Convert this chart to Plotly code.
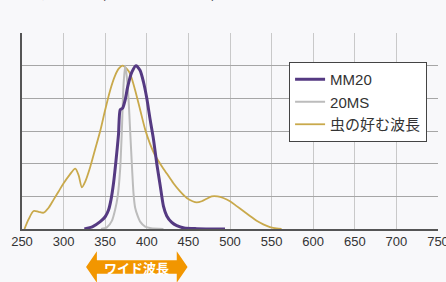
import plotly.graph_objects as go

# ---- data ----
mm20_x = [325, 335, 344, 350, 354, 357, 360, 363, 366, 368, 371, 374, 377, 382, 387, 392, 396, 400, 404, 408, 412, 416, 420, 424, 430, 436, 445, 460, 494]
mm20_y = [0, 0.015, 0.045, 0.075, 0.116, 0.18, 0.28, 0.42, 0.58, 0.73, 0.74, 0.79, 0.87, 0.96, 1.0, 0.97, 0.9, 0.8, 0.67, 0.55, 0.4, 0.27, 0.14, 0.08, 0.04, 0.02, 0.006, 0.002, 0]

ms20_x = [345, 352, 358, 362, 365, 368, 370, 372, 374, 376, 378, 380, 382, 384, 386, 389, 392, 398, 405, 420]
ms20_y = [0, 0.01, 0.05, 0.12, 0.2, 0.37, 0.6, 0.88, 1.0, 0.93, 0.8, 0.6, 0.4, 0.22, 0.13, 0.08, 0.045, 0.015, 0.005, 0]

insect_x = [253, 258, 264, 270, 276, 282, 288, 294, 300, 307, 314, 318, 322, 326, 332, 338, 344, 350, 356, 362, 366, 371, 376, 380, 386, 392, 398, 404, 410, 416, 424, 432, 440, 448, 455, 460, 466, 472, 478, 485, 492, 500, 508, 516, 524, 532, 540, 548, 556, 562]
insect_y = [0, 0.06, 0.11, 0.105, 0.1, 0.13, 0.18, 0.23, 0.28, 0.33, 0.37, 0.33, 0.255, 0.29, 0.38, 0.49, 0.6, 0.73, 0.85, 0.94, 0.98, 1.0, 0.98, 0.95, 0.85, 0.73, 0.61, 0.52, 0.45, 0.4, 0.34, 0.28, 0.23, 0.19, 0.17, 0.163, 0.17, 0.185, 0.2, 0.2, 0.19, 0.17, 0.14, 0.11, 0.08, 0.05, 0.028, 0.012, 0.003, 0]

x_ticks = [250, 300, 350, 400, 450, 500, 550, 600, 650, 700, 750]
y_grid = [0.2, 0.4, 0.6, 0.8, 1.0]

series_names = ["MM20", "20MS", "虫の好む波長"]
title_text = "分光特性(相対エネルギー)"
arrow_text = "ワイド波長"
arrow_range = [327, 449]

FONT = "Liberation Sans, Noto Sans CJK JP, sans-serif"
BG = "#f8f8fa"

fig = go.Figure()
fig.add_trace(go.Scatter(x=insect_x, y=insect_y, mode="lines", name=series_names[2],
                         line=dict(color="#c9a94b", width=1.8, shape="spline", smoothing=0.8),
                         legendrank=3))
fig.add_trace(go.Scatter(x=ms20_x, y=ms20_y, mode="lines", name=series_names[1],
                         line=dict(color="#bcbcbc", width=2, shape="spline", smoothing=0.6),
                         legendrank=2))
fig.add_trace(go.Scatter(x=mm20_x, y=mm20_y, mode="lines", name=series_names[0],
                         line=dict(color="#553a82", width=3, shape="spline", smoothing=0.6),
                         legendrank=1))

fig.update_xaxes(range=[250, 750], tickvals=x_ticks, ticktext=[str(v) for v in x_ticks],
                 showgrid=True, gridcolor="#c9c9c9", gridwidth=1.2,
                 showline=True, linecolor="#555555", linewidth=1.5,
                 ticks="", zeroline=False, automargin=False,
                 ticklabeloverflow="allow",
                 tickfont=dict(family=FONT, size=13, color="#333333"))
fig.update_yaxes(range=[0, 1.2], tickvals=y_grid, showticklabels=False,
                 showgrid=True, gridcolor="#a6a6a6", gridwidth=1,
                 showline=True, linecolor="#555555", linewidth=1.5,
                 ticks="", zeroline=False, automargin=False)

# arrow annotation under the axis
x0, x1 = arrow_range
hx = 13  # head length in data units
yc, yb, yh = -0.194, 0.034, 0.08
path = (f"M {x0} {yc} L {x0+hx} {yc+yh} L {x0+hx} {yc+yb} L {x1-hx} {yc+yb} L {x1-hx} {yc+yh} "
        f"L {x1} {yc} L {x1-hx} {yc-yh} L {x1-hx} {yc-yb} L {x0+hx} {yc-yb} L {x0+hx} {yc-yh} Z")
fig.add_shape(type="path", path=path, xref="x", yref="paper",
              fillcolor="#f29600", line=dict(width=0))
fig.add_annotation(x=(x0 + x1) / 2, y=yc, xref="x", yref="paper", text=f"<b>{arrow_text}</b>",
                   showarrow=False, font=dict(family="Noto Sans CJK JP", size=13, color="white"),
                   yanchor="middle")

# partially visible title at top
fig.add_annotation(x=0.04, y=1.15, xref="paper", yref="paper", text=title_text,
                   showarrow=False, xanchor="left", yanchor="bottom",
                   font=dict(family="Noto Sans CJK JP", size=15, color="#333333"))

fig.update_layout(
    width=446, height=282,
    margin=dict(l=22, r=8, t=33, b=53, autoexpand=False),
    paper_bgcolor=BG, plot_bgcolor=BG,
    showlegend=True,
    legend=dict(x=0.642, y=0.852, xanchor="left", yanchor="top",
                bgcolor="white", bordercolor="#444444", borderwidth=1,
                font=dict(family=FONT, size=15, color="#333333"),
                itemwidth=30, tracegroupgap=0),
    font=dict(family=FONT),
)

fig.write_html("out.html", config={"displayModeBar": False},
               post_script="document.body.style.margin='0';document.body.style.background='%s';" % BG)
